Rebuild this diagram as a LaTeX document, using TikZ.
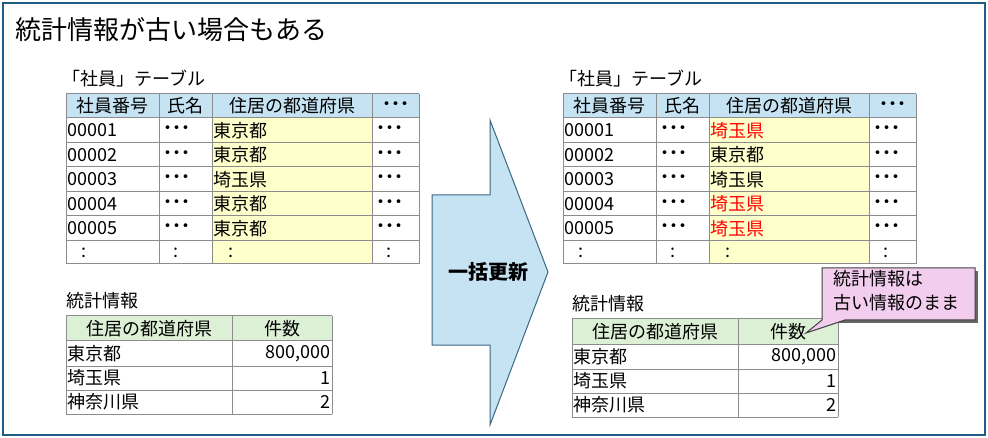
\documentclass[tikz,border=0pt]{standalone}
\usepackage{fontspec}
\setmainfont{Noto Sans CJK JP}
\definecolor{frame}{HTML}{1F5E86}
\definecolor{hblue}{HTML}{C5E3F3}
\definecolor{hgreen}{HTML}{DCF0D6}
\definecolor{yel}{HTML}{FFFFCC}
\definecolor{grid}{HTML}{8C8C8C}
\definecolor{pink}{HTML}{F3CDEE}
\tikzset{
 cell/.style={font=\fontsize{18}{18}\selectfont, inner sep=2pt, anchor=west},
 ccell/.style={font=\fontsize{18}{18}\selectfont, inner sep=0pt},
 lbl/.style={font=\fontsize{18}{18}\selectfont, anchor=west, inner sep=0pt},
 gl/.style={draw=grid, line width=1pt},
}
\begin{document}
\begin{tikzpicture}[x=1pt,y=-1pt]
\useasboundingbox (0,0) rectangle (988,438);
\draw[frame, line width=2pt, fill=white] (3,3) rectangle (985,435);
\node[anchor=west, font=\fontsize{26}{26}\selectfont, inner sep=0pt] (title) at (15,30) {統計情報が古い場合もある};
% employee tables
\foreach \ox/\side in {0/L,497/R}{
 \begin{scope}[xshift=\ox]
 \node[lbl] (emplbl\side) at (62,79) {「社員」テーブル};
 \fill[hblue] (66,94) rectangle (419,118);
 \fill[yel] (212,118) rectangle (372,264);
 \foreach \y in {94,118,143,167,192,216,241,264} \draw[gl] (66,\y) -- (419,\y);
 \foreach \x in {66,159,212,372,419} \draw[gl] (\x,94) -- (\x,264);
 \node[ccell] (h1\side) at (112.5,106) {社員番号};
 \node[ccell] (h2\side) at (185.5,106) {氏名};
 \node[ccell] (h3\side) at (292,106) {住居の都道府県};
 \node[ccell,font=\bfseries\fontsize{18}{18}\selectfont] (h4\side) at (395.5,106) {･･･};
 \foreach \i/\y in {1/130.5,2/155,3/179.5,4/204,5/228.5}{
  \node[cell,inner sep=1pt] (id\i\side) at (66,\y) {0000\i};
  \node[cell,font=\bfseries\fontsize{18}{18}\selectfont] (nm\i\side) at (161,\y) {･･･};
  \node[cell,font=\bfseries\fontsize{18}{18}\selectfont] (dd\i\side) at (374,\y) {･･･};
 }
 \foreach \x/\n in {84/a,176/b,231/c,389/d} \node[ccell] (col\n\side) at (\x,252.5) {:};
 \end{scope}
}
\foreach \i/\y/\t in {1/130.5/東京都,2/155/東京都,3/179.5/埼玉県,4/204/東京都,5/228.5/東京都}
 \node[cell,inner sep=1pt] (prL\i) at (212,\y) {\t};
\foreach \i/\y/\t/\c in {1/130.5/埼玉県/red,2/155/東京都/black,3/179.5/埼玉県/black,4/204/埼玉県/red,5/228.5/埼玉県/red}
 \node[cell,inner sep=1pt,text=\c] (prR\i) at (709,\y) {\t};
% stats tables
\foreach \ox/\oy/\side in {0/0/L,506/3/R}{
 \begin{scope}[xshift=\ox,yshift=-\oy]
 \node[lbl] (stlbl\side) at (66,301) {統計情報};
 \fill[hgreen] (66,316) rectangle (332,341);
 \foreach \y in {316,341,366,390,414} \draw[gl] (66,\y) -- (332,\y);
 \foreach \x in {66,232,332} \draw[gl] (\x,316) -- (\x,414);
 \node[ccell] (sh1\side) at (149,328.5) {住居の都道府県};
 \node[ccell] (sh2\side) at (282,328.5) {件数};
 \foreach \i/\y/\t/\n in {1/353.5/東京都/{800,000},2/378/埼玉県/1,3/402/神奈川県/2}{
  \node[cell,inner sep=1pt] (sp\i\side) at (66,\y) {\t};
  \node[cell,anchor=east,inner sep=1pt] (sn\i\side) at (332,\y) {\n};
 }
 \end{scope}
}
% big arrow
\draw[fill=hblue, draw=frame!70!gray, line width=1pt]
 (432,195) -- (490,195) -- (490,120) -- (548,272) -- (490,425) -- (490,345) -- (432,345) -- cycle;
\node[font=\bfseries\fontsize{20}{20}\selectfont] (upd) at (488,272) {一括更新};
% callout
\fill[gray!80!black] (825,271) rectangle (978,323);
\draw[fill=pink, draw=black!75, line width=1pt]
 (822,268) -- (975,268) -- (975,320) -- (845,320) -- (806,333) -- (822,320) -- cycle;
\node[font=\fontsize{18}{24}\selectfont, align=left, anchor=north west, inner sep=0pt] (note) at (833,270) {統計情報は\\古い情報のまま};
\end{tikzpicture}
\end{document}
